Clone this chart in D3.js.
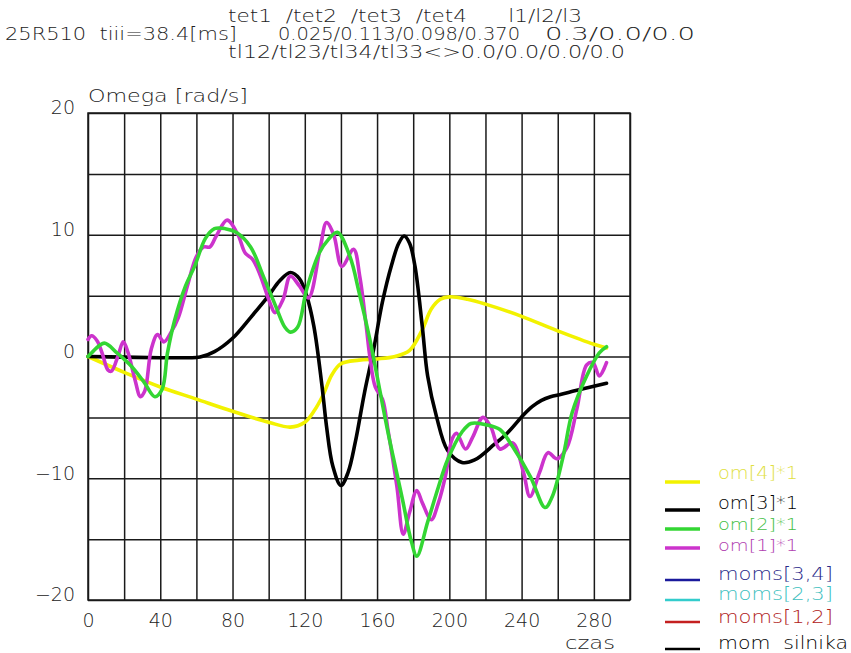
<!DOCTYPE html>
<html><head><meta charset="utf-8">
<script src="https://cdn.jsdelivr.net/npm/d3@7"></script>
<style>body{margin:0;background:#fff}text{font-family:"DejaVu Sans","Liberation Sans",sans-serif;font-weight:200;white-space:pre}</style>
</head><body>
<svg id="c" width="851" height="653"></svg>
<script>
// ---- data ----
const xTicks = [0, 40, 80, 120, 160, 200, 240, 280];
const yTicks = [20, 10, 0, -10, -20];

const om4_t = [0,20,40,60,80,100,112,120,125,130,135,140,150,160,170,178,185,190,195,200,210,220,240,260,280,287];
const om4_v = [0,-1.3,-2.5,-3.5,-4.5,-5.4,-5.8,-5.4,-4.5,-3.2,-1.5,-0.6,-0.3,-0.2,0,0.5,2.2,3.9,4.7,4.9,4.7,4.3,3.3,2.1,1.0,0.7];

const om3_t = [0,20,40,55,62,70,80,90,100,106,112,117,121,125,129.5,132,135.5,140,144,148,153,158,163,168,172,175,178,181,185,188,193,199,207,214,225,232,241,246,251,256,262,270,287];
const om3_v = [0,-0.05,-0.1,-0.1,-0.05,0.4,1.5,3.2,5.0,6.2,6.9,6.4,5.0,2.5,-2.4,-5.7,-9,-10.6,-9.5,-7,-3,0.5,4.5,7.5,9.3,9.9,9.3,7.4,2.5,-1.6,-5,-7.7,-8.7,-8.5,-7.2,-6.3,-4.8,-4.1,-3.6,-3.3,-3.1,-2.8,-2.2];

const om2_t = [0,2,9,16,24,31,37,41,44,48,54,59,65,70,76,82,90,97,104,109,112,116,121,128,133,138,145,150,156,160,166,174,179,182,188,194,199,207,212,220,228,235,245,253,257,263,268,276,283,287];
const om2_v = [0,0.3,1.1,0.3,-0.8,-2.1,-3.3,-2.7,0.3,3,5.8,7.4,9.7,10.5,10.5,10.2,9,6.6,4.1,2.4,2,2.4,5.5,8.5,9.6,10.2,8.2,5.3,1.4,-1.6,-6.2,-11.7,-15.2,-16.4,-13.6,-10.7,-8.5,-6.2,-5.5,-5.6,-6,-7.4,-9.9,-12.4,-11.5,-8.2,-4.6,-1.6,0.3,0.8];

const om1_t = [0,2,5,8,11,13,16.5,19.5,22,26,29,31.5,35,38.5,42,46,50,55,60,64,67.5,71,77,83,87,91,95,101,103.5,108,112,117,122,128.5,132,136,140.5,147,150.5,154,156,159,163,166,171,174.5,178,182,185,190,194,198,201.5,204,209,213,218.6,223,228,235,241,244.6,250,254.6,259.5,265,270.6,276,279.5,283,287];
const om1_v = [1.4,1.7,1.3,0.2,-1.1,-1.2,0,1.2,0.4,-1.9,-3.3,-2.8,0.6,1.8,1.2,2.0,3.2,5.8,8.2,9.0,9.0,9.9,11.2,10.0,8.5,8.0,6.8,4.3,3.6,4.7,6.6,5.8,4.8,8.9,11.0,10.0,7.4,8.8,6.5,2.5,0,-2.5,-3.5,-6,-10.7,-14.6,-12.8,-11,-12,-13.4,-12,-9.7,-6.8,-6.3,-7.6,-6.6,-5,-5.8,-7.6,-7.1,-9.5,-11.5,-9.5,-7.9,-8.4,-7.5,-4.3,-0.7,-0.5,-1.6,-0.5];

const legendLabels = ["om[4]*1","om[3]*1","om[2]*1","om[1]*1","moms[3,4]","moms[2,3]","moms[1,2]","mom  silnika"];
const legendColors = ["#f2f200","#000000","#33d633","#cc33cc","#1a1a9c","#33cccc","#c42020","#000000"];
const legendTextColors = ["#e0e040","#000000","#44c044","#b040b0","#2a2a8a","#40c0c0","#b02020","#000000"];

// ---- drawing ----
const svg = d3.select("#c");
const x = d3.scaleLinear().domain([0,300]).range([88,630]);
const y = d3.scaleLinear().domain([-20,20]).range([600,113]);

const gx = svg.append("g").attr("transform","translate(0,600)")
  .call(d3.axisBottom(x).tickValues(d3.range(0,301,20)).tickSize(-487)
    .tickFormat(d => xTicks.includes(d) ? d : ""));
const gy = svg.append("g").attr("transform","translate(88,0)")
  .call(d3.axisLeft(y).tickValues(d3.range(-20,21,5)).tickSize(-542)
    .tickFormat(d => yTicks.includes(d) ? (d<0 ? "\u2212"+(-d) : d) : ""));
[gx,gy].forEach(g=>{
  g.select(".domain").remove();
  g.selectAll(".tick line").attr("stroke","#1a1a1a").attr("stroke-width",1.5);
  g.selectAll(".tick text").attr("fill","#222").attr("font-size",19)
   .attr("font-family","DejaVu Sans, Liberation Sans, sans-serif").attr("font-weight",200);
});
gx.selectAll(".tick text").attr("dy",null).attr("y",27);
gy.selectAll(".tick text").attr("x",-13).attr("dy","0.05em");
svg.append("rect").attr("x",88).attr("y",113).attr("width",542).attr("height",487)
  .attr("fill","none").attr("stroke","#1a1a1a").attr("stroke-width",1.5);

const line = d3.line().x(d=>x(d[0])).y(d=>y(d[1])).curve(d3.curveCatmullRom.alpha(0.5));
const series = [
  {t:om4_t, v:om4_v, c:legendColors[0]},
  {t:om3_t, v:om3_v, c:legendColors[1]},
  {t:om1_t, v:om1_v, c:legendColors[3]},
  {t:om2_t, v:om2_v, c:legendColors[2]},
];
series.forEach(s=>{
  svg.append("path").datum(d3.zip(s.t,s.v)).attr("d",line)
    .attr("fill","none").attr("stroke",s.c).attr("stroke-width",3.6)
    .attr("stroke-linejoin","round").attr("stroke-linecap","round");
});

function txt(str,x0,yb,len,size,col,anchor){
  const t = svg.append("text").attr("x",x0).attr("y",yb).attr("font-size",size)
    .attr("fill",col||"#222").text(str);
  if(anchor) t.attr("text-anchor",anchor);
  if(len) t.attr("textLength",len).attr("lengthAdjust","spacingAndGlyphs");
  return t;
}
txt("tet1  /tet2  /tet3  /tet4      l1/l2/l3",228,22,354,17);
txt("25R510  tiii=38.4[ms]",5,40,232,17);
txt("0.025/0.113/0.098/0.370",278,40,242,17);
txt("0.3/0.0/0.0",545,40,150,17);
txt("tl12/tl23/tl34/tl33<>0.0/0.0/0.0/0.0",228,58,397,17);
txt("Omega [rad/s]",88,102,160,17);
txt("czas",590,649,50,17,"#222","middle");

const lineY = [482,510,529,548,580,600,622,649];
const textY = [479,509,530,551,580,600,623,649];
const textW = [80,80,80,80,115,115,115,130];
const textS = [17,17,15.5,15.5,17,17,17,17];
legendLabels.forEach((l,i)=>{
  svg.append("line").attr("x1",665).attr("x2",700).attr("y1",lineY[i]).attr("y2",lineY[i])
    .attr("stroke",legendColors[i]).attr("stroke-width", i>=4 ? 2.5 : 3.5);
  txt(l,718,textY[i],textW[i],textS[i],legendTextColors[i]);
});
</script>
</body></html>
